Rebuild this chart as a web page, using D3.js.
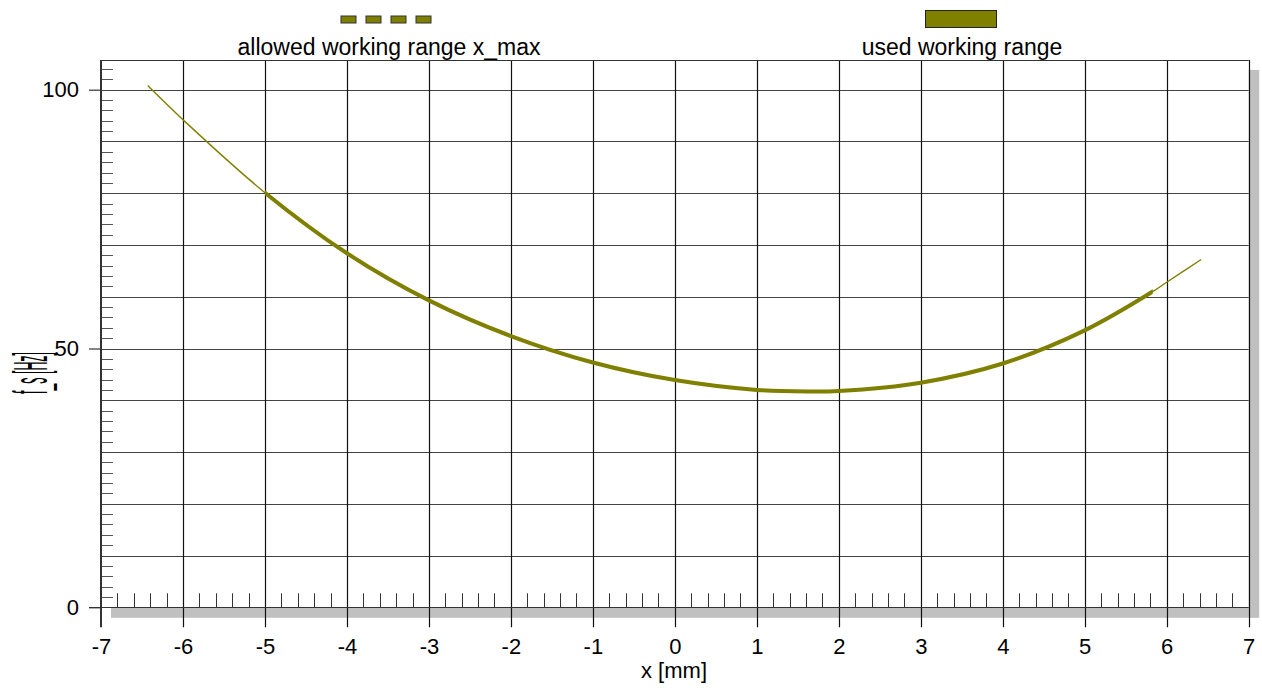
<!DOCTYPE html>
<html>
<head>
<meta charset="utf-8">
<script src="https://cdn.jsdelivr.net/npm/d3@7"></script>
<style>
  html, body { margin: 0; padding: 0; background: #ffffff; }
  svg { display: block; font-family: "Liberation Sans", Arial, sans-serif; }
</style>
</head>
<body>
<svg id="chart" width="1262" height="688"></svg>
<script>
// Displacement x [mm] and resonance frequency f_s [Hz]
const xValues  = [-6.43, -6, -5, -4, -3, -2, -1, 0, 1, 1.65, 2, 3, 4, 5, 5.83, 6, 6.42];
const fsValues = [100.8, 94.2, 80.1, 68.4, 59.3, 52.4, 47.3, 43.9, 42.0, 41.7, 41.8, 43.4, 47.1, 53.5, 61.0, 62.8, 67.2];

// Portion of the curve inside the used working range
const usedRange = [-5, 5.83];

const xTicks = [-7, -6, -5, -4, -3, -2, -1, 0, 1, 2, 3, 4, 5, 6, 7];
const yTicks = [0, 50, 100];
const yGrid  = [10, 20, 30, 40, 50, 60, 70, 80, 90, 100];
const legendLabels = ["allowed working range x_max", "used working range"];

(function () {
const olive = "#808000";
const svg = d3.select("#chart");

const x = d3.scaleLinear().domain([-7, 7]).range([101, 1248.7]);
const y = d3.scaleLinear().domain([0, 100]).range([607.3, 89.7]);
const yMax = 105.75;

const pLeft = x(-7), pRight = x(7), pBottom = y(0), pTop = y(yMax);

// drop shadow of the plot frame
svg.append("rect").attr("x", pLeft + 10).attr("y", pBottom)
  .attr("width", pRight - pLeft).attr("height", 10.5).attr("fill", "#c0c0c0");
svg.append("rect").attr("x", pRight).attr("y", pTop + 10)
  .attr("width", 10.5).attr("height", pBottom - pTop).attr("fill", "#c0c0c0");

// horizontal grid
svg.append("g").selectAll("line").data(yGrid).join("line")
  .attr("x1", pLeft).attr("x2", pRight)
  .attr("y1", d => Math.round(y(d)) + 0.5).attr("y2", d => Math.round(y(d)) + 0.5)
  .attr("stroke", "#444").attr("stroke-width", 1);

// y minor ticks every 2 Hz
svg.append("g").selectAll("line").data(d3.range(2, 105, 2).filter(v => v % 10 !== 0)).join("line")
  .attr("x1", pLeft).attr("x2", pLeft + 12)
  .attr("y1", d => Math.round(y(d)) + 0.5).attr("y2", d => Math.round(y(d)) + 0.5)
  .attr("stroke", "#555").attr("stroke-width", 1);

// x minor ticks every 0.2 mm
svg.append("g").selectAll("line")
  .data(d3.range(-70, 71, 2).filter(v => v % 10 !== 0).map(v => v / 10)).join("line")
  .attr("x1", d => Math.round(x(d)) + 0.5).attr("x2", d => Math.round(x(d)) + 0.5)
  .attr("y1", pBottom).attr("y2", pBottom - 14)
  .attr("stroke", "#333").attr("stroke-width", 1);

// vertical grid, running through the bottom axis
svg.append("g").selectAll("line").data(xTicks.slice(1)).join("line")
  .attr("x1", d => Math.round(x(d)) + 0.5).attr("x2", d => Math.round(x(d)) + 0.5)
  .attr("y1", pTop).attr("y2", pBottom + 20)
  .attr("stroke", "#111").attr("stroke-width", 1.2);

// frame: top border, x axis line, left axis
svg.append("line").attr("x1", pLeft).attr("x2", pRight)
  .attr("y1", Math.round(pTop) + 0.5).attr("y2", Math.round(pTop) + 0.5)
  .attr("stroke", "#333").attr("stroke-width", 1.2);
svg.append("line").attr("x1", pLeft - 12).attr("x2", pRight)
  .attr("y1", Math.round(pBottom) + 0.5).attr("y2", Math.round(pBottom) + 0.5)
  .attr("stroke", "#333").attr("stroke-width", 1.2);
svg.append("line").attr("x1", pLeft).attr("x2", pLeft)
  .attr("y1", pTop).attr("y2", pBottom + 20)
  .attr("stroke", "#333").attr("stroke-width", 2);

// axes with labels (plain hyphen for negatives)
const xAxis = d3.axisBottom(x).tickValues(xTicks).tickSize(0).tickPadding(31).tickFormat(d => String(d));
const gx = svg.append("g").attr("transform", `translate(0,${pBottom})`).call(xAxis);
gx.select(".domain").remove();
gx.selectAll("text").attr("font-size", 22).attr("fill", "#000")
  .attr("font-family", "Liberation Sans, Arial, sans-serif");

const yAxis = d3.axisLeft(y).tickValues(yTicks).tickSize(12).tickPadding(10);
const gy = svg.append("g").attr("transform", `translate(${pLeft},0)`).call(yAxis);
gy.select(".domain").remove();
gy.selectAll(".tick line").attr("stroke", "#333").attr("stroke-width", 1.2);
gy.selectAll("text").attr("font-size", 22).attr("fill", "#000")
  .attr("font-family", "Liberation Sans, Arial, sans-serif");

// curve
const pts = xValues.map((v, i) => [v, fsValues[i]]);
const line = d3.line().x(d => x(d[0])).y(d => y(d[1])).curve(d3.curveCatmullRom.alpha(0.5));

svg.append("path").attr("d", line(pts))
  .attr("fill", "none").attr("stroke", olive).attr("stroke-width", 1.4);

svg.append("clipPath").attr("id", "used-clip")
  .append("rect").attr("x", x(usedRange[0])).attr("y", 0)
  .attr("width", x(usedRange[1]) - x(usedRange[0])).attr("height", 688);

svg.append("path").attr("d", line(pts)).attr("clip-path", "url(#used-clip)")
  .attr("fill", "none").attr("stroke", olive).attr("stroke-width", 4);

// axis titles
svg.append("text").attr("x", 674).attr("y", 678).attr("text-anchor", "middle")
  .attr("font-size", 22).attr("fill", "#000").text("x [mm]");

svg.append("text")
  .attr("transform", "translate(47,373) rotate(-90) scale(0.62,2.4)")
  .attr("text-anchor", "middle").attr("font-size", 20).attr("fill", "#000")
  .text("f_s [Hz]");

// legend
const dashG = svg.append("g");
dashG.selectAll("rect").data(d3.range(4)).join("rect")
  .attr("x", d => 341 + d * 25).attr("y", 16).attr("width", 15).attr("height", 7)
  .attr("fill", olive).attr("stroke", "#333").attr("stroke-width", 1);
svg.append("text").attr("x", 389).attr("y", 55).attr("text-anchor", "middle")
  .attr("font-size", 23).attr("fill", "#000").text(legendLabels[0]);

svg.append("rect").attr("x", 925.5).attr("y", 10.5).attr("width", 71).attr("height", 17)
  .attr("fill", olive).attr("stroke", "#222").attr("stroke-width", 1);
svg.append("text").attr("x", 962).attr("y", 55).attr("text-anchor", "middle")
  .attr("font-size", 23).attr("fill", "#000").text(legendLabels[1]);
})();
</script>
</body>
</html>
